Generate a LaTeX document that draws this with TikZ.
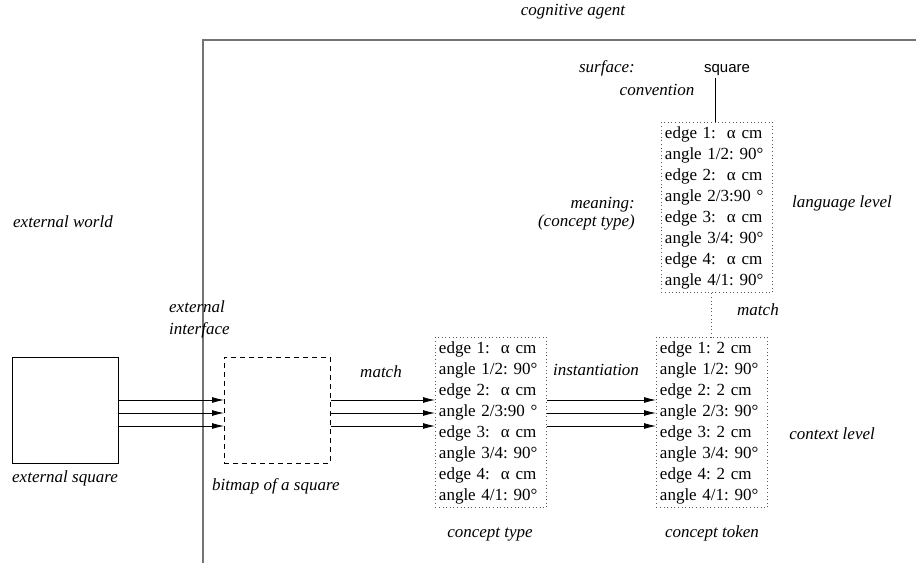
\documentclass[tikz,border=0pt]{standalone}
\usepackage{fontspec}
\setmainfont{Liberation Serif}
\newfontfamily\sqfont{Liberation Sans}
\usetikzlibrary{arrows.meta}
\newcommand{\agap}{\hspace{0.65em}}
\begin{document}
\begin{tikzpicture}[x=1pt,y=-1pt,
  lbl/.style={font=\fontsize{17}{20}\selectfont\itshape\frenchspacing, inner sep=0pt},
  featbox/.style={draw=black!65, dash pattern=on 1pt off 2.6pt, line width=0.9pt, align=left,
    font=\fontsize{17}{21}\selectfont\frenchspacing, text width=104pt, inner xsep=3.5pt, inner ysep=4pt, anchor=north west},
  dotline/.style={draw=black!65, dash pattern=on 1pt off 2.6pt, line width=0.9pt},
  arr/.style={-{Latex[length=12pt,width=6pt]}, line width=0.8pt},
  frameline/.style={draw=black!55, line width=1.6pt},
  sqbox/.style={draw, line width=0.8pt, minimum width=106pt, minimum height=106pt, inner sep=0pt, anchor=north west}]
\useasboundingbox (0,0) rectangle (916,563);

% frame of the cognitive agent
\coordinate (fc) at (203,40);
\coordinate (fb) at (203,563);
\coordinate (fr) at (916,40);
\draw[frameline] (fb) -- (fc) -- (fr);

% helper coordinates
\coordinate (r1) at (0,400);
\coordinate (r2) at (0,413);
\coordinate (r3) at (0,426);
\coordinate (mx) at (711,0);
\coordinate (lx) at (715,0);

% labels
\node[lbl, anchor=mid] (agent) at (573,13) {cognitive agent};
\node[lbl, anchor=mid west] (world) at (13,225) {external world};
\node[lbl, anchor=mid west] (iface1) at (169,310) {external};
\node[lbl, anchor=mid west] (iface2) at (169,332) {interface};

% external square and bitmap
\node[sqbox] (ext) at (12,357) {};
\node[sqbox, dashed, dash pattern=on 5pt off 4pt] (bmp) at (224,357) {};
\node[lbl, anchor=mid west] (extl) at (12,480) {external square};
\node[lbl, anchor=mid west] (bmpl) at (212,488) {bitmap of a square};
\node[lbl, anchor=mid] (match1) at (381,375) {match};

% concept type
\node[featbox] (type) at (435,337) {edge 1:\agap α cm\\angle 1/2: 90°\\edge 2:\agap α cm\\angle 2/3:90 °\\edge 3:\agap α cm\\angle 3/4: 90°\\edge 4:\agap α cm\\angle 4/1: 90°};
\node[lbl, anchor=mid] (typel) at (490,535) {concept type};

% concept token
\node[featbox] (token) at (656,337) {edge 1: 2 cm\\angle 1/2: 90°\\edge 2: 2 cm\\angle 2/3: 90°\\edge 3: 2 cm\\angle 3/4: 90°\\edge 4: 2 cm\\angle 4/1: 90°};
\node[lbl, anchor=mid] (tokenl) at (712,535) {concept token};
\node[lbl, anchor=mid] (inst) at (596,373) {instantiation};

% language level
\node[featbox] (lang) at (661,122) {edge 1:\agap α cm\\angle 1/2: 90°\\edge 2:\agap α cm\\angle 2/3:90 °\\edge 3:\agap α cm\\angle 3/4: 90°\\edge 4:\agap α cm\\angle 4/1: 90°};
\node[font=\sqfont\fontsize{15}{17}\selectfont, anchor=mid, inner sep=2pt] (sq) at (727,70) {square};
\node[lbl, anchor=mid east] (surf) at (635,70) {surface:};
\node[lbl, anchor=mid] (conv) at (657,93) {convention};
\node[lbl, anchor=mid east] (mean) at (635,206) {meaning:};
\node[lbl, anchor=mid east] (ctype) at (635,224) {(concept type)};
\node[lbl, anchor=mid east] (langl) at (892,205) {language level};
\node[lbl, anchor=mid east] (ctxl) at (875,437) {context level};
\node[lbl, anchor=mid west] (match2) at (737,313) {match};

% connectors
\draw[line width=0.8pt] (sq.south -| lx) -- (lang.north -| lx);
\draw[dotline] (lang.south -| mx) -- (token.north -| mx);
\foreach \r in {r1,r2,r3} {
  \draw[arr] (ext.east |- \r) -- (bmp.west |- \r);
  \draw[arr] (bmp.east |- \r) -- (type.west |- \r);
  \draw[arr] (type.east |- \r) -- (token.west |- \r);
}
\end{tikzpicture}
\end{document}
